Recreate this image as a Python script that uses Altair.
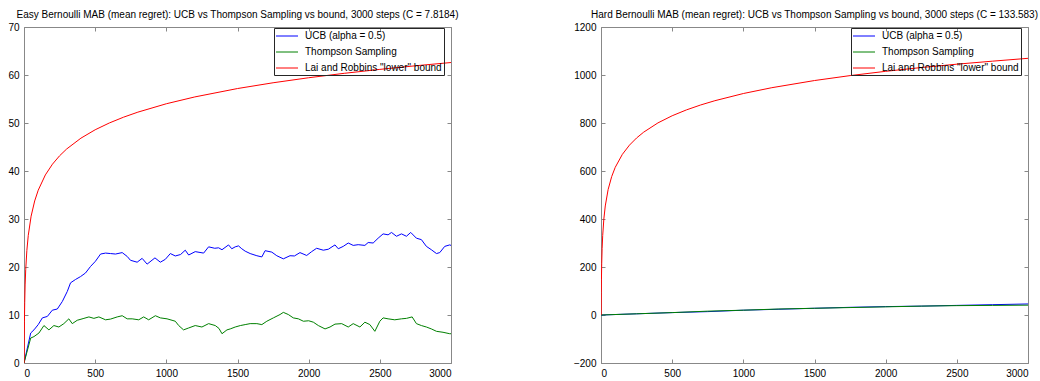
import altair as alt
import pandas as pd

# ---------------- data ----------------
series_names = ["UCB (alpha = 0.5)", "Thompson Sampling", 'Lai and Robbins "lower" bound']
series_colors = ["#0000ff", "#008000", "#ff0000"]

x_ticks = [0, 500, 1000, 1500, 2000, 2500, 3000]
easy_y_ticks = [0, 10, 20, 30, 40, 50, 60, 70]
hard_y_ticks = [-200, 0, 200, 400, 600, 800, 1000, 1200]

easy_title = "Easy Bernoulli MAB (mean regret): UCB vs Thompson Sampling vs bound, 3000 steps (C = 7.8184)"
hard_title = "Hard Bernoulli MAB (mean regret): UCB vs Thompson Sampling vs bound, 3000 steps (C = 133.583)"

easy_ucb_t = [0, 47, 70, 100, 129, 164, 199, 234, 269, 304, 327, 362, 397, 432, 467, 502, 538, 573, 608, 643,
              690, 725, 748, 795, 830, 865, 920, 958, 993, 1028, 1063, 1100, 1133, 1157, 1203, 1262, 1297, 1340,
              1367, 1391, 1437, 1460, 1484, 1507, 1530, 1554, 1589, 1636, 1671, 1694, 1741, 1776, 1822, 1869,
              1900, 1939, 1986, 2021, 2056, 2103, 2138, 2185, 2208, 2243, 2278, 2313, 2348, 2395, 2418, 2453,
              2488, 2523, 2558, 2582, 2617, 2652, 2687, 2717, 2757, 2792, 2827, 2862, 2898, 2921, 2956, 2991, 3000]
easy_ucb_v = [0, 6.25, 6.9, 8.0, 9.4, 9.7, 11.0, 11.25, 12.8, 14.9, 16.7, 17.4, 18.0, 18.75, 20.1, 21.2, 22.7,
              22.9, 22.8, 22.7, 23.0, 22.2, 21.4, 21.0, 21.8, 20.6, 21.9, 21.0, 21.6, 22.8, 22.3, 22.6, 23.5,
              22.5, 23.2, 22.9, 24.2, 23.9, 24.0, 23.6, 24.6, 23.8, 24.2, 24.4, 23.8, 23.3, 22.8, 22.35, 22.1,
              23.4, 23.1, 22.35, 21.7, 22.35, 22.3, 23.0, 22.4, 23.2, 23.9, 23.5, 23.7, 24.6, 23.8, 24.3, 25.0,
              24.5, 24.65, 24.5, 25.1, 25.0, 26.0, 26.9, 26.7, 27.2, 26.4, 26.9, 26.4, 27.2, 26.0, 25.7, 24.3,
              23.6, 22.8, 23.0, 24.3, 24.6, 24.5]

easy_ts_t = [0, 47, 70, 105, 140, 175, 210, 245, 280, 315, 339, 374, 421, 456, 491, 526, 573, 608, 655, 690,
             725, 760, 806, 841, 876, 923, 958, 1005, 1040, 1063, 1087, 1121, 1157, 1203, 1250, 1297, 1344, 1370,
             1391, 1426, 1449, 1484, 1520, 1554, 1589, 1636, 1671, 1706, 1752, 1799, 1822, 1857, 1892, 1928,
             1963, 2000, 2033, 2068, 2115, 2150, 2185, 2232, 2278, 2313, 2360, 2395, 2430, 2465, 2500, 2523,
             2558, 2605, 2652, 2687, 2727, 2757, 2792, 2827, 2862, 2898, 2944, 2991, 3000]
easy_ts_v = [0, 5.2, 5.5, 6.25, 7.8, 6.9, 7.8, 7.5, 8.2, 9.2, 8.2, 8.9, 9.3, 9.6, 9.3, 9.6, 9.0, 9.15, 9.6,
             9.85, 9.2, 9.2, 9.0, 9.6, 9.0, 9.85, 9.4, 9.2, 8.9, 8.7, 7.8, 6.9, 7.3, 7.8, 7.5, 8.2, 7.8, 7.2,
             6.1, 6.9, 7.1, 7.5, 7.8, 8.0, 8.2, 8.2, 8.0, 8.7, 9.4, 10.1, 10.55, 10.1, 9.4, 9.2, 8.7, 8.8, 8.5,
             7.8, 7.1, 7.5, 8.1, 8.2, 7.5, 8.2, 7.5, 8.5, 8.0, 6.6, 8.7, 9.4, 9.2, 9.0, 9.2, 9.3, 9.6, 8.2,
             7.8, 7.5, 7.1, 6.6, 6.4, 6.1, 6.1]

bound_t = [1, 2, 3, 5, 8, 12, 20, 30, 50, 75, 100, 150, 200, 250, 300, 400, 500, 600, 700, 800, 1000, 1200,
           1500, 1750, 2000, 2250, 2500, 2750, 3000]
easy_bound_v = [0, 5.42, 8.59, 12.58, 16.26, 19.43, 23.42, 26.59, 30.59, 33.76, 36.00, 39.18, 41.42, 43.17,
                44.59, 46.84, 48.59, 50.01, 51.22, 52.26, 54.01, 55.43, 57.18, 58.38, 59.43, 60.35, 61.17,
                61.92, 62.60]

hard_ucb_t = [0, 250, 500, 750, 1000, 1250, 1500, 1750, 2000, 2250, 2500, 2750, 3000]
hard_ucb_v = [0, 5, 10, 14, 20, 24, 28, 32, 35, 37, 40, 43, 46]
hard_ts_t = [0, 250, 500, 750, 1000, 1250, 1500, 1750, 2000, 2250, 2500, 2750, 3000]
hard_ts_v = [0, 5, 10, 16, 20, 25, 28, 31, 34, 37, 39, 40, 41]
hard_bound_v = [0, 92.6, 146.8, 215.0, 277.8, 331.9, 400.2, 454.3, 522.6, 576.7, 615.2, 669.3, 707.8, 737.6,
                761.9, 800.4, 830.2, 854.5, 875.1, 892.9, 922.8, 947.1, 976.9, 997.5, 1015.3, 1031.1, 1045.1,
                1057.6, 1069.5]

# ---------------- layout constants ----------------
W, H = 427, 336
FONT = "Liberation Sans"
AX = "#262626"


def frame(rows):
    out = []
    for name, ts, vs in rows:
        out += [{"series": name, "t": t, "v": v} for t, v in zip(ts, vs)]
    return pd.DataFrame(out)


def panel(df, ydom, yticks, title, yext):
    xs = alt.Scale(domain=[0, 3000], nice=False, zero=False)
    ys = alt.Scale(domain=ydom, nice=False, zero=False)
    base = alt.Chart(df)
    lines = base.mark_line(strokeWidth=1, clip=True).encode(
        x=alt.X("t:Q", scale=xs, axis=alt.Axis(orient="bottom", values=x_ticks, format="d", ticks=False,
                                               tickSize=0, labelPadding=5, domain=True, title=None,
                                               grid=False)),
        y=alt.Y("v:Q", scale=ys, axis=alt.Axis(orient="left", values=yticks, format="d", ticks=False,
                                               tickSize=0, labelPadding=5, domain=True, title=None,
                                               grid=False, minExtent=yext, maxExtent=yext)),
        color=alt.Color("series:N",
                        scale=alt.Scale(domain=series_names, range=series_colors),
                        sort=series_names,
                        legend=alt.Legend(orient="none", legendX=W - 177, legendY=1, title=None,
                                          symbolType="M-2,0L2,0", symbolSize=121, symbolStrokeWidth=1,
                                          symbolOffset=5,
                                          labelFont=FONT, labelFontSize=10, labelColor="#000",
                                          labelExpr="datum.label + '\u00a0\u00a0\u00a0\u00a0'",
                                          labelOffset=12, padding=2, rowPadding=5,
                                          strokeColor=AX)),
    )
    ticks_a = base.mark_point(opacity=0).encode(
        x=alt.X("t:Q", scale=xs, axis=alt.Axis(orient="top", offset=-H, values=x_ticks, labels=False,
                                               domain=False, ticks=True, tickSize=4, title=None, grid=False)),
        y=alt.Y("v:Q", scale=ys, axis=alt.Axis(orient="right", offset=-W, values=yticks, labels=False,
                                               domain=False, ticks=True, tickSize=4, title=None, grid=False)),
    )
    ticks_b = base.mark_point(opacity=0).encode(
        x=alt.X("t:Q", scale=xs, axis=alt.Axis(orient="bottom", offset=-H, values=x_ticks, labels=False,
                                               domain=True, ticks=True, tickSize=4, title=None, grid=False)),
        y=alt.Y("v:Q", scale=ys, axis=alt.Axis(orient="left", offset=-W, values=yticks, labels=False,
                                               domain=True, ticks=True, tickSize=4, title=None, grid=False)),
    )
    return alt.layer(lines, ticks_a, ticks_b).resolve_axis(x="independent", y="independent").properties(
        width=W, height=H,
        title=alt.TitleParams(title, font=FONT, fontSize=10, fontWeight="normal", color="#000",
                              anchor="middle", frame="group", offset=2),
    )


easy_df = frame([(series_names[0], easy_ucb_t, easy_ucb_v),
                 (series_names[1], easy_ts_t, easy_ts_v),
                 (series_names[2], bound_t, easy_bound_v)])
hard_df = frame([(series_names[0], hard_ucb_t, hard_ucb_v),
                 (series_names[1], hard_ts_t, hard_ts_v),
                 (series_names[2], bound_t, hard_bound_v)])

left = panel(easy_df, [0, 70], easy_y_ticks, easy_title, 23)
right = panel(hard_df, [-200, 1200], hard_y_ticks, hard_title, 28)

chart = alt.hconcat(left, right, spacing=112).resolve_scale(color="independent").properties(
    padding={"left": 0, "top": 9, "right": 0, "bottom": 0}
).configure_axis(
    labelFont=FONT, labelFontSize=10, labelColor=AX, domainColor=AX, tickColor=AX, domainWidth=1, tickWidth=1
).configure_view(stroke=None).configure(background="white")

chart.save("out.html", embed_options={"renderer": "svg", "actions": False})
